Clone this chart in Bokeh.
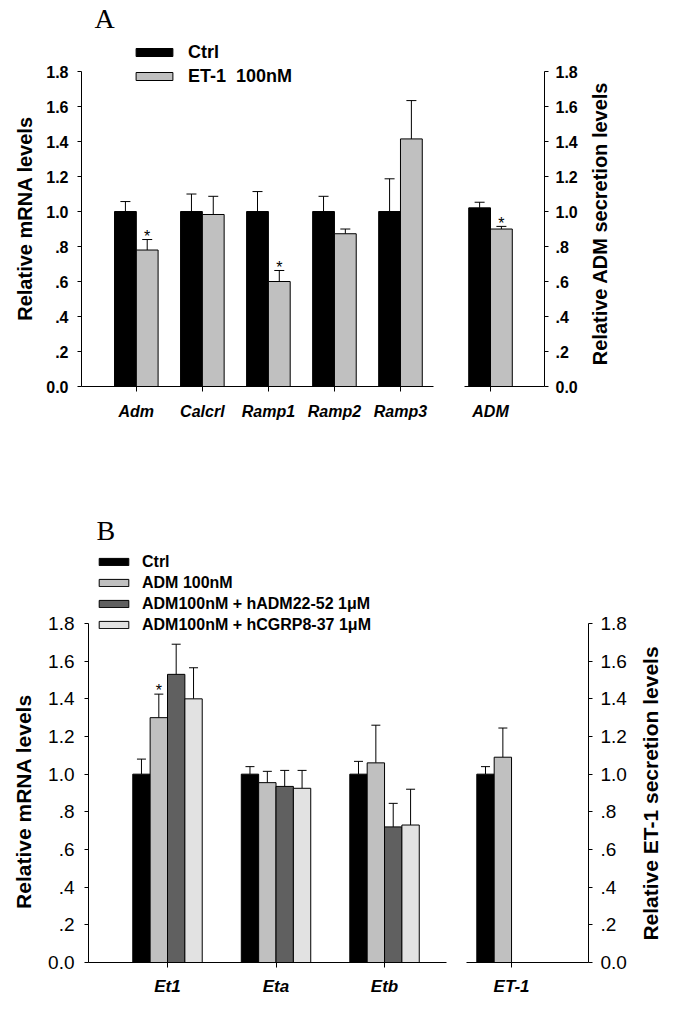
import math
from bokeh.plotting import figure
from bokeh.models import (ColumnDataSource, Range1d, FixedTicker, Whisker, TeeHead,
                          Legend, LegendItem, Label)
from bokeh.layouts import row, column
from bokeh.core.properties import value
from bokeh.embed import file_html
from bokeh.resources import INLINE

# ---------------- data : panel A ----------------
genes_a = ["Adm", "Calcrl", "Ramp1", "Ramp2", "Ramp3"]
series_a = ["Ctrl", "ET-1  100nM"]
ctrl_a = [1.00, 1.00, 1.00, 1.00, 1.00]
ctrl_a_sem = [0.057, 0.100, 0.114, 0.087, 0.187]
et1_a = [0.78, 0.983, 0.60, 0.873, 1.415]
et1_a_sem = [0.060, 0.104, 0.063, 0.027, 0.219]
et1_a_sig = [True, False, True, False, False]

secr_a = ["ADM"]
ctrl_secr_a = [1.021]
ctrl_secr_a_sem = [0.032]
et1_secr_a = [0.90]
et1_secr_a_sem = [0.015]
et1_secr_a_sig = [True]

# ---------------- data : panel B ----------------
genes_b = ["Et1", "Eta", "Etb"]
series_b = ["Ctrl", "ADM 100nM", "ADM100nM + hADM22-52 1\u03bcM", "ADM100nM + hCGRP8-37 1\u03bcM"]
ctrl_b = [1.00, 1.00, 1.00]
ctrl_b_sem = [0.080, 0.040, 0.068]
adm_b = [1.30, 0.955, 1.06]
adm_b_sem = [0.125, 0.060, 0.200]
hadm_b = [1.53, 0.935, 0.72]
hadm_b_sem = [0.160, 0.085, 0.125]
hcgrp_b = [1.40, 0.925, 0.73]
hcgrp_b_sem = [0.165, 0.095, 0.190]
adm_b_sig = [True, False, False]

secr_b = ["ET-1"]
ctrl_secr_b = [1.00]
ctrl_secr_b_sem = [0.040]
adm_secr_b = [1.09]
adm_secr_b_sem = [0.155]

tick_values = [0.0, 0.2, 0.4, 0.6, 0.8, 1.0, 1.2, 1.4, 1.6, 1.8]
tick_labels = ["0.0", ".2", ".4", ".6", ".8", "1.0", "1.2", "1.4", "1.6", "1.8"]

FONT = "Liberation Sans"
C_BLACK = "#000000"
C_GRAY = "#c0c0c0"
C_DARK = "#606060"
C_LIGHT = "#e2e2e2"


def make_fig(width, height, xr, yr, left, right, top, bottom, yside):
    p = figure(width=width, height=height, x_range=Range1d(*xr), y_range=Range1d(*yr),
               output_backend="svg", toolbar_location=None, y_axis_location=yside,
               min_border_left=left, min_border_right=right,
               min_border_top=top, min_border_bottom=bottom)
    p.outline_line_color = None
    p.xgrid.visible = False
    p.ygrid.visible = False
    p.background_fill_color = "white"
    p.border_fill_color = "white"
    return p


def title_fig(width, height, text, cx, cy, size):
    p = figure(width=width, height=height, x_range=Range1d(0, 1), y_range=Range1d(0, 1),
               output_backend="svg", toolbar_location=None,
               x_axis_location=None, y_axis_location=None,
               min_border_left=0, min_border_right=0, min_border_top=0, min_border_bottom=0)
    p.outline_line_color = None
    p.grid.visible = False
    p.add_layout(Label(x=cx, y=cy, x_units="screen", y_units="screen", text=text,
                       angle=math.pi / 2, text_align="center", text_baseline="middle",
                       text_font=FONT, text_font_style="bold", text_font_size=size,
                       text_color="black"))
    return p


def style_yaxis(p, bold_ticks, tick_size, tick_standoff):
    ax = p.yaxis[0]
    ax.ticker = FixedTicker(ticks=tick_values)
    ax.major_label_overrides = {v: s for v, s in zip(tick_values, tick_labels)}
    ax.bounds = (0, 1.8)
    ax.major_tick_in = 0
    ax.major_tick_out = 4
    ax.minor_tick_line_color = None
    ax.axis_line_color = "black"
    ax.major_tick_line_color = "black"
    ax.major_label_text_font = FONT
    ax.major_label_text_font_size = tick_size
    ax.major_label_text_font_style = "bold" if bold_ticks else "normal"
    ax.major_label_text_color = "black"
    ax.major_label_standoff = tick_standoff


def style_xaxis(p, names, size, standoff):
    ax = p.xaxis[0]
    ax.ticker = FixedTicker(ticks=list(range(len(names))))
    ax.major_label_overrides = {i: n for i, n in enumerate(names)}
    ax.major_tick_in = 0
    ax.major_tick_out = 5
    ax.minor_tick_line_color = None
    ax.axis_line_color = "black"
    ax.major_tick_line_color = "black"
    ax.major_label_text_font = FONT
    ax.major_label_text_font_size = size
    ax.major_label_text_font_style = "bold italic"
    ax.major_label_text_color = "black"
    ax.major_label_standoff = standoff


def add_bars(p, means, sems, offset, width, color, cap, sig=None, star_size="16px"):
    xs = [i + offset for i in range(len(means))]
    upper = [m + s for m, s in zip(means, sems)]
    src = ColumnDataSource(dict(x=xs, top=means, upper=upper))
    r = p.vbar(x="x", top="top", bottom=0, width=width, source=src,
               fill_color=color, line_color="black", line_width=1)
    w = Whisker(source=src, base="x", lower="top", upper="upper", dimension="height",
                line_color="black", line_width=1, lower_head=None,
                upper_head=TeeHead(size=cap, line_color="black", line_width=1))
    p.add_layout(w)
    if sig is not None:
        sx = [x for x, s in zip(xs, sig) if s]
        sy = [u + 0.018 for u, s in zip(upper, sig) if s]
        if sx:
            ssrc = ColumnDataSource(dict(x=sx, y=sy, t=["*"] * len(sx)))
            p.text(x="x", y="y", text="t", source=ssrc, text_font=value(FONT),
                   text_font_size=star_size, text_align="center",
                   text_baseline="alphabetic", text_color="black")
    return r


# ---------------- panel A ----------------
A_H = 439
A_YR = (0, 2.206)
tA_L = title_fig(41, A_H, "Relative mRNA levels", 24, 168, "20px")
pA1 = make_fig(407, A_H, (-0.83, 4.5), A_YR, 40, 15, 0, 53, "left")
pA2 = make_fig(136, A_H, (-0.394, 0.818), A_YR, 16, 40, 0, 53, "right")
tA_R = title_fig(35, A_H, "Relative ADM secretion levels", 15.6, 163, "20px")

ra1 = add_bars(pA1, ctrl_a, ctrl_a_sem, -0.165, 0.33, C_BLACK, 10)
ra2 = add_bars(pA1, et1_a, et1_a_sem, 0.165, 0.33, C_GRAY, 10, sig=et1_a_sig)
add_bars(pA2, ctrl_secr_a, ctrl_secr_a_sem, -0.165, 0.33, C_BLACK, 10)
add_bars(pA2, et1_secr_a, et1_secr_a_sem, 0.165, 0.33, C_GRAY, 10, sig=et1_secr_a_sig)

style_yaxis(pA1, True, "16px", 9)
style_yaxis(pA2, True, "16px", 7)
style_xaxis(pA1, genes_a, "16px", 11)
style_xaxis(pA2, secr_a, "16px", 11)

legA = Legend(items=[LegendItem(label=series_a[0], renderers=[ra1]),
                     LegendItem(label=series_a[1], renderers=[ra2])],
              location=(50, 298), glyph_width=46, glyph_height=10, label_standoff=11,
              spacing=0, padding=0, margin=0, border_line_color=None,
              background_fill_alpha=0, label_text_font=FONT, label_text_font_size="18px",
              label_text_font_style="bold", label_text_color="black", label_height=24)
pA1.add_layout(legA)
pA1.add_layout(Label(x=13, y=368, x_units="screen", y_units="screen", text="A",
                     text_font="Liberation Serif", text_font_size="28px",
                     text_baseline="alphabetic", text_color="black"))

# ---------------- panel B ----------------
B_H = 560
B_YR = (0, 2.777)
tB_L = title_fig(43, B_H, "Relative mRNA levels", 23, 161, "21px")
pB1 = make_fig(413, B_H, (-0.728, 2.571), B_YR, 45, 10, 0, 37, "left")
pB2 = make_fig(177, B_H, (-0.415, 0.709), B_YR, 10, 45, 0, 37, "right")
tB_R = title_fig(35, B_H, "Relative ET-1 secretion levels", 17, 169, "21px")

rb1 = add_bars(pB1, ctrl_b, ctrl_b_sem, -0.24, 0.16, C_BLACK, 9)
rb2 = add_bars(pB1, adm_b, adm_b_sem, -0.08, 0.16, C_GRAY, 9, sig=adm_b_sig)
rb3 = add_bars(pB1, hadm_b, hadm_b_sem, 0.08, 0.16, C_DARK, 9)
rb4 = add_bars(pB1, hcgrp_b, hcgrp_b_sem, 0.24, 0.16, C_LIGHT, 9)
add_bars(pB2, ctrl_secr_b, ctrl_secr_b_sem, -0.24, 0.16, C_BLACK, 9)
add_bars(pB2, adm_secr_b, adm_secr_b_sem, -0.08, 0.16, C_GRAY, 9)

style_yaxis(pB1, False, "19px", 10)
style_yaxis(pB2, False, "19px", 8)
style_xaxis(pB1, genes_b, "17px", 9)
style_xaxis(pB2, secr_b, "17px", 9)

legB = Legend(items=[LegendItem(label=series_b[i], renderers=[r])
                     for i, r in enumerate([rb1, rb2, rb3, rb4])],
              location=(7, 327), glyph_width=37, glyph_height=9, label_standoff=10,
              spacing=0, padding=0, margin=0, border_line_color=None,
              background_fill_alpha=0, label_text_font=FONT, label_text_font_size="16px",
              label_text_font_style="bold", label_text_color="black", label_height=21)
pB1.add_layout(legB)
pB1.add_layout(Label(x=8, y=432, x_units="screen", y_units="screen", text="B",
                     text_font="Liberation Serif", text_font_size="28px",
                     text_baseline="alphabetic", text_color="black"))

layout = column(row(tA_L, pA1, pA2, tA_R), row(tB_L, pB1, pB2, tB_R))
open("out.html", "w").write(file_html(layout, INLINE))
